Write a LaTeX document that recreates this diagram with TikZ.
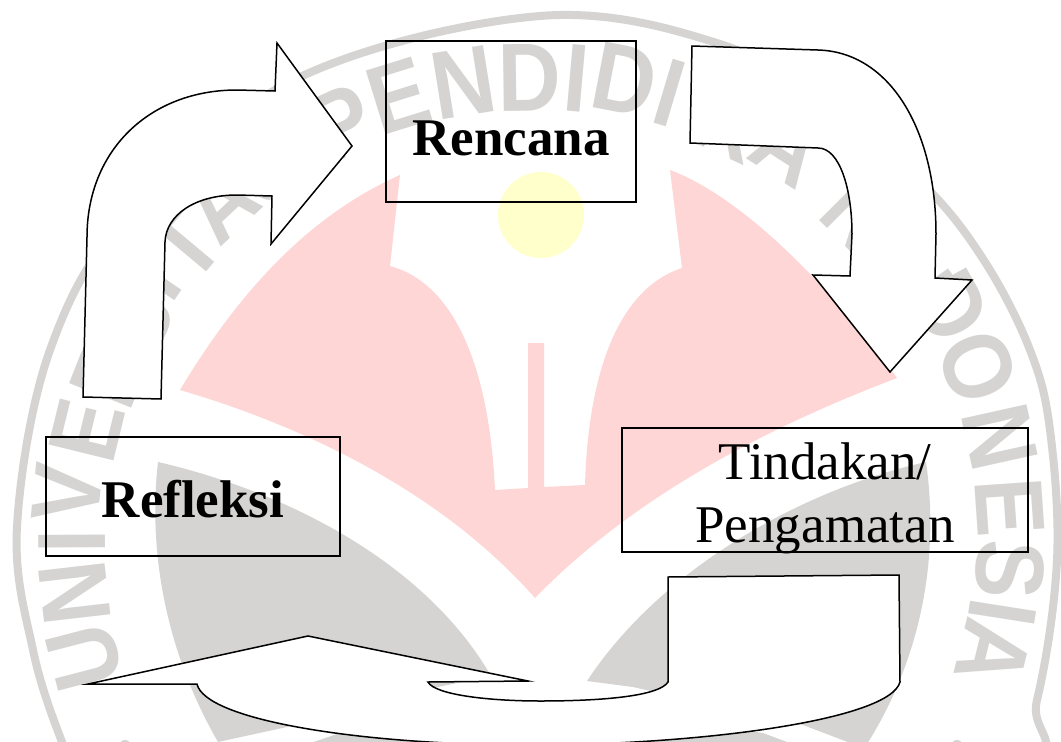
\documentclass[tikz,border=0pt]{standalone}
\usepackage{fontspec}
\setmainfont{Liberation Serif}
\newfontfamily\wmfont{Liberation Sans}
\definecolor{wmgrey}{HTML}{D5D4D3}
\definecolor{wmpink}{HTML}{FFD6D6}
\definecolor{wmyellow}{HTML}{FFFFCC}
\tikzset{
  stagebox/.style={draw=black,line width=2pt,inner sep=0pt,outer sep=0pt,font=\fontsize{53}{63}\selectfont,align=center},
  bentarrow/.style={draw=black,fill=white,line width=1.5pt,line join=miter},
  wmletter/.style={text=wmgrey,inner sep=0pt,font=\wmfont\bfseries\fontsize{97}{97}\selectfont},
}
\begin{document}
\begin{tikzpicture}[x=1pt,y=-1pt]
\useasboundingbox (0,0) rectangle (1061,742);
\fill[white] (0,0) rectangle (1061,742);
\begin{scope}
\clip (0,0) rectangle (1061,742);
% watermark ring
\draw[wmgrey,line width=8pt] plot[smooth cycle,tension=0.6] coordinates {(17,527) (50,350) (130,212) (298,78) (540,16) (720,44) (830,108) (925,186) (985,262) (1030,350) (1050,430) (1057,560) (1037,700) (1000,800) (535,1060) (90,800) (62,742) (33,650)};
\foreach \ch/\x/\y in {U/85/657,N/75/593,I/72/542,V/67/493,E/87/430,R/110/372,S/135/320,I/151/277,T/185/246,A/220/203,S/268/165,P/342/123,E/398/96,N/463/83,D/530/78,I/577/78,D/625/80,I/670/93,K/730/123,A/789/147,N/861/215,I/888/244,N/913/276,D/950/307,O/978/367,N/1000/437,E/1010/507,S/1010/570,I/1003/613,A/993/653}{
  \pgfmathsetmacro{\rot}{atan2(540-\y,\x-536)-90}
  \node[wmletter,rotate=\rot] at (\x,\y) {\scalebox{.9}[1]{\ch}};
}
\fill[wmgrey] (125,746) circle [radius=6];
\fill[wmgrey] (957,746) circle [radius=6];
% pink
\fill[wmpink] (180,390) .. controls (240,290) and (310,215) .. (400,175)
  -- (390,266) .. controls (460,285) and (490,380) .. (495,490)
  -- (528,488) -- (528,343) -- (544,343) -- (544,487) -- (585,485)
  .. controls (588,380) and (615,290) .. (682,268)
  -- (670,170) .. controls (750,200) and (840,300) .. (897,378)
  .. controls (760,430) and (630,500) .. (535,598)
  .. controls (440,490) and (300,425) .. (180,390) -- cycle;
\fill[wmyellow] (541,215) circle [radius=43];
% grey
\fill[wmgrey] (158,462) .. controls (300,495) and (430,570) .. (491,676)
  -- (433,688) -- (287,727) -- (218,742)
  .. controls (165,650) and (148,550) .. (158,462) -- cycle;
\fill[wmgrey] (926,462) .. controls (800,490) and (660,570) .. (587,681)
  -- (633,687) -- (803,725) -- (853,744) -- (867,744)
  .. controls (920,660) and (940,560) .. (926,462) -- cycle;
\fill[wmgrey] (305,745) -- (340,733) -- (540,700) -- (763,733) -- (795,745) -- cycle;
\end{scope}
% arrows
\draw[bentarrow] (83,397) -- (87,237) .. controls (87,150) and (150,90) .. (237,90)
  -- (275,91) -- (277,43) -- (352,146) -- (271,244) -- (272,196) -- (237,195)
  .. controls (195,195) and (166,215) .. (165,242) -- (161,399) -- cycle;
\draw[bentarrow] (692,46) -- (818,50) .. controls (890,52) and (936,130) .. (936,234)
  -- (935,278) -- (972,280) -- (890,372) -- (813,275) -- (850,276) -- (852,234)
  .. controls (852,190) and (840,148) .. (818,148) -- (690,143) -- cycle;
\begin{scope}
\clip (0,0) rectangle (1061,742);
\draw[bentarrow] (88,684) -- (308,636) -- (528,681) -- (428,682)
  .. controls (435,695) and (490,701) .. (540,701)
  .. controls (610,701) and (660,695) .. (668,682)
  -- (668,577) -- (899,575) -- (900,682)
  .. controls (890,720) and (700,745) .. (530,745)
  .. controls (360,745) and (205,720) .. (197,684) -- cycle;
\end{scope}
% boxes
\node[stagebox,anchor=north west,text width=250pt,text height=114pt,text depth=47pt] (rencana) at (386,41) {\bfseries Rencana};
\node[stagebox,anchor=north west,text width=294pt,text height=80pt,text depth=39pt] (refleksi) at (46,437) {\bfseries Refleksi};
\node[stagebox,anchor=north west,text width=406pt,text height=51pt,text depth=73pt] (tindakan) at (622,428) {Tindakan/\\Pengamatan};
\end{tikzpicture}
\end{document}
